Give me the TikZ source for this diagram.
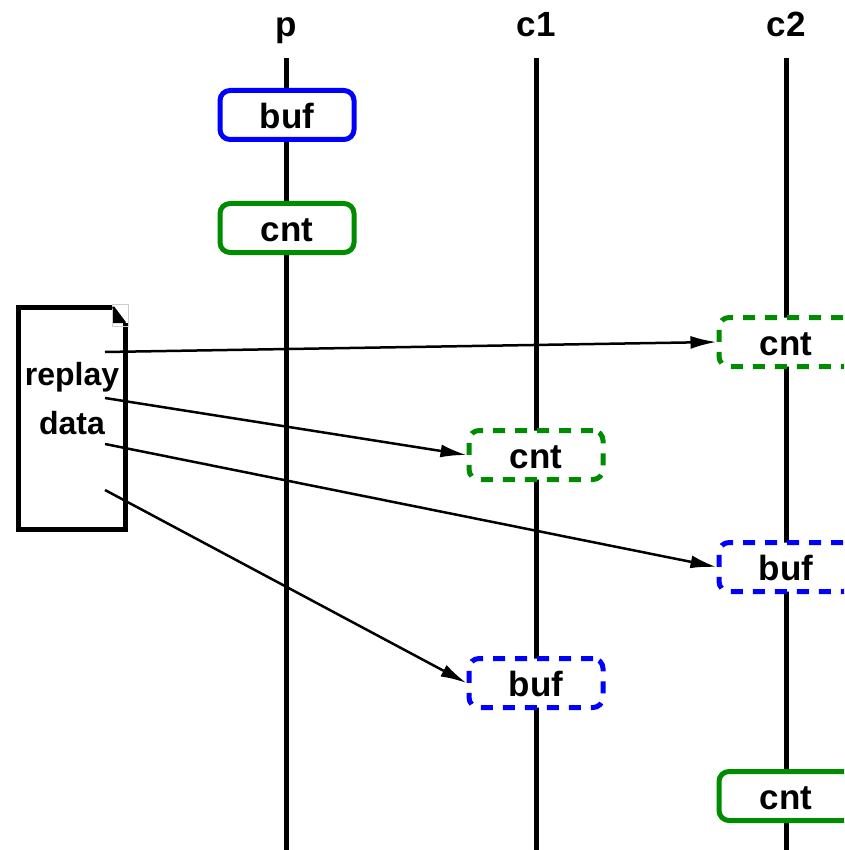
\documentclass[tikz,border=0pt]{standalone}
\usepackage{fontspec}
\setmainfont{Liberation Sans}
\usetikzlibrary{arrows.meta}
\definecolor{cblue}{RGB}{0,0,255}
\definecolor{cgreen}{RGB}{0,140,0}
\tikzset{
  lbl/.style={font=\bfseries\fontsize{35}{42}\selectfont, inner sep=0pt},
  varbox/.style={draw, line width=5pt, rounded corners=10pt, fill=white,
    minimum width=134pt, minimum height=49pt, inner sep=0pt,
    text height=27pt, text depth=0pt,
    font=\bfseries\fontsize{35}{42}\selectfont},
  bufbox/.style={varbox, draw=cblue},
  cntbox/.style={varbox, draw=cgreen},
  ghost/.style={dash pattern=on 12pt off 10pt},
  lifeline/.style={line width=5pt},
  msg/.style={line width=2.5pt, -{Latex[length=26pt,width=13pt]}},
}
\begin{document}
\begin{tikzpicture}[x=1pt,y=-1pt]
\useasboundingbox (0,0) rectangle (844,850);
\clip (0,0) rectangle (844,850);
% headers
\node[lbl, anchor=base] (hp) at (286,37) {p};
\node[lbl, anchor=base] (hc1) at (536,37) {c1};
\node[lbl, anchor=base] (hc2) at (786,37) {c2};
% lifelines
\coordinate (pt) at (286,58); \coordinate (pb) at (286,852);
\coordinate (c1t) at (536,58); \coordinate (c1b) at (536,852);
\coordinate (c2t) at (786,58); \coordinate (c2b) at (786,852);
\draw[lifeline] (pt) -- (pb);
\draw[lifeline] (c1t) -- (c1b);
\draw[lifeline] (c2t) -- (c2b);
% boxes
\node[bufbox] (pbuf) at (287,115) {buf};
\node[cntbox] (pcnt) at (287,228) {cnt};
\node[cntbox, ghost] (c2cnt) at (786,342) {cnt};
\node[cntbox, ghost] (c1cnt) at (536,455) {cnt};
\node[bufbox, ghost] (c2buf) at (786,567) {buf};
\node[bufbox, ghost] (c1buf) at (536,683) {buf};
\node[cntbox] (c2cnt2) at (786,796) {cnt};
% replay document
\draw[line width=5pt, line join=miter] (113,307) -- (18,307) -- (18,529) -- (125,529) -- (125,323);
\draw[gray!40, line width=0.8pt] (112,304) rectangle (128,326);
\fill (113,307) -- (113,323) -- (125,323) -- cycle;
\draw[line width=2.5pt] (113,307) -- (125,323);
\node[lbl, font=\bfseries\fontsize{32}{38}\selectfont, anchor=base] (replay) at (72,385) {replay};
\node[lbl, font=\bfseries\fontsize{32}{38}\selectfont, anchor=base] (data) at (72,434) {data};
% message sources
\coordinate (s1) at (105,352);
\coordinate (s2) at (105,398);
\coordinate (s3) at (105,444);
\coordinate (s4) at (105,490);
\draw[msg] (s1) -- (c2cnt.west);
\draw[msg] (s2) -- (c1cnt.west);
\draw[msg] (s3) -- (c2buf.west);
\draw[msg] (s4) -- (c1buf.west);
\end{tikzpicture}
\end{document}
